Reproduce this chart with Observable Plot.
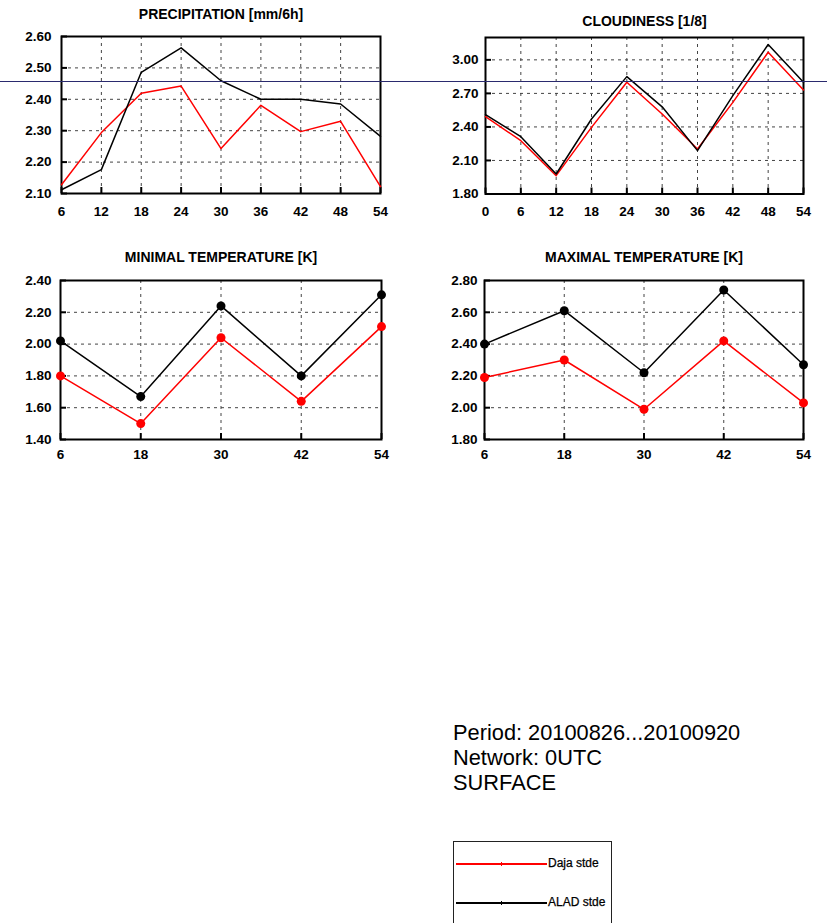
<!DOCTYPE html>
<html>
<head>
<meta charset="utf-8">
<script src="https://cdn.jsdelivr.net/npm/d3@7"></script>
<script src="https://cdn.jsdelivr.net/npm/@observablehq/plot@0.6"></script>
<style>
  body { margin: 0; background: #fff; font-family: "Liberation Sans", Arial, Helvetica, sans-serif; }
  #root { position: relative; width: 827px; height: 923px; overflow: hidden; background: #fff; }
  .panel { position: absolute; }
  .panel svg { overflow: visible; }
  #info { position: absolute; left: 453px; top: 720px; font-size: 21.8px; line-height: 25px; color: #000; white-space: nowrap; }
  #legend { position: absolute; left: 453px; top: 841px; width: 157px; height: 140px; border: 1.5px solid #222; }
  .lrow { position: absolute; left: 0; height: 0; }
  .lline { position: absolute; left: 2px; top: -1px; width: 91px; height: 1.5px; }
  .ltick { position: absolute; left: 47px; top: -2px; width: 1px; height: 4px; }
  .llabel { position: absolute; left: 94px; top: -8px; font-size: 12px; line-height: 14px; white-space: nowrap; color: #000; -webkit-text-stroke: 0.25px #000; }
  #hline { position: absolute; left: 0; top: 81px; width: 827px; height: 1px; background: #2a2a6e; z-index: 10; }
</style>
</head>
<body>
<div id="root"></div>
<script>
// ---------- data ----------
const seriesNames = ["Daja stde", "ALAD stde"];
const seriesColors = ["#ff0000", "#000000"];

const precipHours = [6, 12, 18, 24, 30, 36, 42, 48, 54];
const precipDaja  = [2.128, 2.294, 2.419, 2.442, 2.243, 2.381, 2.297, 2.330, 2.122];
const precipAlad  = [2.112, 2.176, 2.486, 2.564, 2.459, 2.400, 2.400, 2.385, 2.282];
const precipYTicks = [2.10, 2.20, 2.30, 2.40, 2.50, 2.60];

const cloudHours = [0, 6, 12, 18, 24, 30, 36, 42, 48, 54];
const cloudDaja  = [2.492, 2.277, 1.964, 2.396, 2.800, 2.516, 2.203, 2.620, 3.068, 2.731];
const cloudAlad  = [2.510, 2.313, 1.979, 2.471, 2.850, 2.580, 2.188, 2.680, 3.137, 2.800];
const cloudYTicks = [1.80, 2.10, 2.40, 2.70, 3.00];

const tempHours = [6, 18, 30, 42, 54];
const tminDaja  = [1.80, 1.50, 2.04, 1.64, 2.11];
const tminAlad  = [2.02, 1.67, 2.24, 1.80, 2.31];
const tminYTicks = [1.40, 1.60, 1.80, 2.00, 2.20, 2.40];
const tmaxDaja  = [2.19, 2.30, 1.99, 2.42, 2.03];
const tmaxAlad  = [2.40, 2.61, 2.22, 2.74, 2.27];
const tmaxYTicks = [1.80, 2.00, 2.20, 2.40, 2.60, 2.80];

const infoLines = ["Period: 20100826...20100920", "Network: 0UTC", "SURFACE"];

// ---------- drawing ----------
const root = document.getElementById("root");

function panel(cfg) {
  const rows = [];
  cfg.hours.forEach((h, i) => rows.push({h, v: cfg.daja[i], s: seriesNames[0]}));
  cfg.hours.forEach((h, i) => rows.push({h, v: cfg.alad[i], s: seriesNames[1]}));
  const m = cfg.m;
  const innerW = cfg.width - m.left - m.right;
  const innerH = cfg.height - m.top - m.bottom;
  const marks = [
    Plot.ruleY(cfg.yTicks, {y: d => d, stroke: "#444", strokeWidth: 1, strokeDasharray: "3,4"}),
    Plot.ruleX(cfg.xTicks, {x: d => d, stroke: "#444", strokeWidth: 1, strokeDasharray: "3,4"}),
    Plot.tickY(cfg.yTicks, {y: d => d, insetRight: innerW - 6, stroke: "#000", strokeWidth: 2}),
    Plot.tickX(cfg.xTicks, {x: d => d, insetTop: innerH - 6, stroke: "#000", strokeWidth: 2}),
    Plot.frame({stroke: "#000", strokeWidth: 2}),
    Plot.line(rows, {x: "h", y: "v", z: "s", stroke: "s", strokeWidth: 1.5}),
  ];
  if (cfg.dots) marks.push(Plot.dot(rows, {x: "h", y: "v", fill: "s", r: 4.5}));
  marks.push(Plot.text([cfg.title], {frameAnchor: "top", dy: cfg.titleDy, lineAnchor: "middle",
    fontSize: 14, fontWeight: "bold", fill: "#000"}));
  const svg = Plot.plot({
    width: cfg.width, height: cfg.height,
    marginTop: m.top, marginRight: m.right, marginBottom: m.bottom, marginLeft: m.left,
    x: {domain: cfg.xDomain, ticks: cfg.xTicks, tickFormat: d => String(d), tickSize: 0, tickPadding: cfg.xPad, label: null},
    y: {domain: cfg.yDomain, ticks: cfg.yTicks, tickFormat: d => d.toFixed(2), tickSize: 0, tickPadding: cfg.yPad, label: null},
    color: {domain: seriesNames, range: seriesColors},
    style: {fontFamily: "'Liberation Sans', Arial, sans-serif", fontSize: "13.5px", fontWeight: "bold", color: "#000", background: "transparent"},
    marks
  });
  const div = document.createElement("div");
  div.className = "panel";
  div.style.left = cfg.left + "px";
  div.style.top = cfg.top + "px";
  div.appendChild(svg);
  root.appendChild(div);
}

panel({title: "PRECIPITATION [mm/6h]", hours: precipHours, daja: precipDaja, alad: precipAlad,
  xDomain: [6, 54], xTicks: precipHours, yDomain: [2.10, 2.60], yTicks: precipYTicks,
  left: 0, top: 0, width: 413, height: 225, m: {top: 36, right: 33, bottom: 32, left: 61},
  xPad: 13, yPad: 10, titleDy: -22, dots: false});

panel({title: "CLOUDINESS [1/8]", hours: cloudHours, daja: cloudDaja, alad: cloudAlad,
  xDomain: [0, 54], xTicks: cloudHours, yDomain: [1.80, 3.20], yTicks: cloudYTicks,
  left: 410, top: 0, width: 417, height: 225, m: {top: 37, right: 24, bottom: 31.5, left: 75},
  xPad: 12, yPad: 7, titleDy: -16, dots: false});

panel({title: "MINIMAL TEMPERATURE [K]", hours: tempHours, daja: tminDaja, alad: tminAlad,
  xDomain: [6, 54], xTicks: tempHours, yDomain: [1.40, 2.40], yTicks: tminYTicks,
  left: 0, top: 240, width: 413, height: 240, m: {top: 40, right: 32, bottom: 41, left: 60},
  xPad: 9.5, yPad: 9, titleDy: -23, dots: true});

panel({title: "MAXIMAL TEMPERATURE [K]", hours: tempHours, daja: tmaxDaja, alad: tmaxAlad,
  xDomain: [6, 54], xTicks: tempHours, yDomain: [1.80, 2.80], yTicks: tmaxYTicks,
  left: 410, top: 240, width: 417, height: 240, m: {top: 40, right: 24, bottom: 41, left: 74},
  xPad: 9.5, yPad: 7, titleDy: -23, dots: true});

// info text
const info = document.createElement("div");
info.id = "info";
info.innerHTML = infoLines.map(t => `<div>${t}</div>`).join("");
root.appendChild(info);

// legend
const legend = document.createElement("div");
legend.id = "legend";
const rowTops = [22, 61];
seriesNames.forEach((name, i) => {
  const row = document.createElement("div");
  row.className = "lrow";
  row.style.top = rowTops[i] + "px";
  row.innerHTML = `<div class="lline" style="background:${seriesColors[i]}"></div>` +
    `<div class="ltick" style="background:${seriesColors[i]}"></div>` +
    `<div class="llabel">${name}</div>`;
  legend.appendChild(row);
});
root.appendChild(legend);

// thin horizontal guide line seen across the reference image
const hl = document.createElement("div");
hl.id = "hline";
root.appendChild(hl);
</script>
</body>
</html>
